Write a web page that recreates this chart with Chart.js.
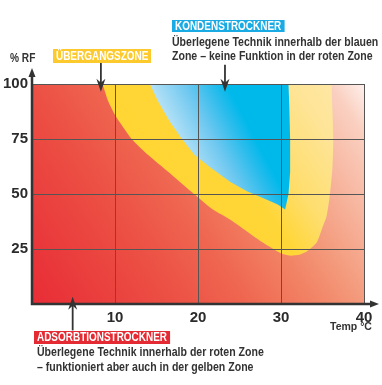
<!DOCTYPE html>
<html>
<head>
<meta charset="utf-8">
<script src="https://cdn.jsdelivr.net/npm/chart.js@4.4.1/dist/chart.umd.min.js"></script>
<style>
  html, body { margin: 0; padding: 0; background: #fff; overflow: hidden; }
  #wrap { position: relative; width: 382px; height: 385px; }
  canvas { position: absolute; left: 0; top: 0; }
  .box { position: absolute; font-family: "Liberation Sans", Arial, sans-serif; font-weight: bold; font-size: 12.3px; color: #fff; padding: 0 3.7px; white-space: nowrap; transform: scaleX(0.81); transform-origin: 0 0; }
  .txt { position: absolute; font-family: "Liberation Sans", Arial, sans-serif; font-weight: bold; font-size: 12.8px; line-height: 14px; color: #333; white-space: nowrap; transform: scaleX(0.825); transform-origin: 0 0; }
</style>
</head>
<body>
<div id="wrap">
  <canvas id="c" width="382" height="385"></canvas>
  <div class="txt" style="left:10px; top:50px; font-size:13px; line-height:15px; transform:scaleX(0.78);">% RF</div>
  <div class="txt" style="left:330px; top:320px; font-size:10.5px; line-height:12px; transform:none;">Temp °C</div>
  <div class="box" style="left:53px; top:49px; height:14px; line-height:14px; background:#FDCA2E;">ÜBERGANGSZONE</div>
  <div class="box" style="left:172px; top:20px; height:12px; line-height:12px; background:#1AAAE4;">KONDENSTROCKNER</div>
  <div class="txt" style="left:172px; top:35px;">Überlegene Technik innerhalb der blauen</div>
  <div class="txt" style="left:172px; top:48.5px;">Zone – keine Funktion in der roten Zone</div>
  <div class="box" style="left:34px; top:331px; height:13px; line-height:13px; background:#E42B33;">ADSORBTIONSTROCKNER</div>
  <div class="txt" style="left:37px; top:345px;">Überlegene Technik innerhalb der roten Zone</div>
  <div class="txt" style="left:37px; top:360px;">– funktioniert aber auch in der gelben Zone</div>
</div>
<script>
// ---- data ----
const tempTicks = [10, 20, 30, 40];
const rfTicks = [25, 50, 75, 100];

// red (adsorption) zone = whole field
const redTemp = [0, 0, 40, 40];
const redRF   = [0, 100, 100, 0];

// yellow (transition) zone outer boundary
const yellowTemp = [8.5, 9.2, 10.1, 12.0, 14.0, 16.4, 19.2, 21.8, 23.9, 25.9, 27.9, 29.9, 31.1, 32.2, 33.1, 34.3, 34.9, 35.5, 35.9, 36.2, 36.3, 36.2, 36.1];
const yellowRF   = [100, 92, 85.3, 75, 67.7, 60.1, 51, 42.9, 38.3, 33, 27.7, 23.2, 22, 22.4, 23.9, 28, 33.8, 40, 50, 62, 75, 88, 100];

// blue (condensation) zone boundary
const blueTemp = [14.2, 15.2, 16.6, 18.0, 19.6, 21.5, 23.9, 25.9, 28.3, 29.6, 30.5, 30.9, 31.1, 31.1, 31.0, 30.9];
const blueRF   = [100, 92, 82.9, 75.3, 67.7, 62, 55.5, 51.2, 47.4, 45.2, 42.9, 50, 60, 75, 90, 100];

const toPts = (xs, ys) => xs.map((x, i) => ({ x: x, y: ys[i] }));

function diagGradient(chart, stops) {
  const a = chart.chartArea;
  if (!a) return null;
  const g = chart.ctx.createLinearGradient(a.left, a.bottom, a.right, a.top);
  stops.forEach(s => g.addColorStop(s[0], s[1]));
  return g;
}

const redStops = [
  [0, 'rgb(232,44,54)'], [0.3, 'rgb(236,80,68)'], [0.45, 'rgb(239,102,80)'],
  [0.6, 'rgb(242,132,102)'], [0.7, 'rgb(244,156,126)'], [0.85, 'rgb(248,190,170)'],
  [0.93, 'rgb(250,208,193)'], [1, 'rgb(254,240,236)']
];
const yellowStops = [
  [0, 'rgb(255,212,45)'], [0.62, 'rgb(255,214,55)'], [0.72, 'rgb(254,222,110)'],
  [0.85, 'rgb(254,228,150)'], [1, 'rgb(254,234,175)']
];

function blueGradient(chart) {
  const a = chart.chartArea;
  if (!a) return null;
  const xs = chart.scales.x, ys = chart.scales.y;
  const g = chart.ctx.createLinearGradient(
    xs.getPixelForValue(14.2), ys.getPixelForValue(100),
    xs.getPixelForValue(21.4), ys.getPixelForValue(114.4));
  g.addColorStop(0, 'rgb(178,224,246)');
  g.addColorStop(0.45, 'rgb(110,200,240)');
  g.addColorStop(0.8, 'rgb(40,188,236)');
  g.addColorStop(1, 'rgb(0,185,235)');
  return g;
}

const arrowPlugin = {
  id: 'arrows',
  afterDraw(chart) {
    const ctx = chart.ctx, a = chart.chartArea;
    const xs = chart.scales.x, ys = chart.scales.y;
    ctx.save();
    ctx.strokeStyle = '#333';
    ctx.fillStyle = '#333';
    // axes
    ctx.lineWidth = 2.5;
    ctx.beginPath();
    ctx.moveTo(a.left, a.bottom + 1.2);
    ctx.lineTo(a.left, a.top - 10);
    ctx.moveTo(a.left - 1.2, a.bottom);
    ctx.lineTo(a.right + 9, a.bottom);
    ctx.stroke();
    // axis arrowheads
    ctx.beginPath();
    ctx.moveTo(a.left, a.top - 16);
    ctx.lineTo(a.left - 3.5, a.top - 7);
    ctx.lineTo(a.left + 3.5, a.top - 7);
    ctx.closePath();
    ctx.fill();
    ctx.beginPath();
    ctx.moveTo(a.right + 15, a.bottom);
    ctx.lineTo(a.right + 6, a.bottom - 3.5);
    ctx.lineTo(a.right + 6, a.bottom + 3.5);
    ctx.closePath();
    ctx.fill();
    // annotation arrows (temp, rf-from, rf-to)
    const ann = [[8.3, 109.7, 96.5], [23.25, 108.8, 96.5], [4.9, -12, 3.3]];
    ctx.lineWidth = 1.8;
    ann.forEach(([t, r0, r1]) => {
      const x = xs.getPixelForValue(t);
      const y0 = ys.getPixelForValue(r0), y1 = ys.getPixelForValue(r1);
      const dir = y1 > y0 ? 1 : -1;
      ctx.beginPath();
      ctx.moveTo(x, y0);
      ctx.lineTo(x, y1 - dir * 8);
      ctx.stroke();
      ctx.beginPath();
      ctx.moveTo(x, y1);
      ctx.lineTo(x - 4.5, y1 - dir * 13);
      ctx.lineTo(x, y1 - dir * 9);
      ctx.lineTo(x + 4.5, y1 - dir * 13);
      ctx.closePath();
      ctx.fill();
    });
    ctx.restore();
  }
};

const tickFont = { family: "'Liberation Sans', Arial, sans-serif", weight: 'bold', size: 15 };

new Chart(document.getElementById('c'), {
  type: 'scatter',
  data: {
    datasets: [
      { label: 'Kondenstrockner', data: toPts(blueTemp, blueRF), showLine: true, fill: 'shape',
        backgroundColor: ctx => blueGradient(ctx.chart), borderWidth: 0, pointRadius: 0, order: 1 },
      { label: 'Übergangszone', data: toPts(yellowTemp, yellowRF), showLine: true, fill: 'shape', tension: 0.2,
        backgroundColor: ctx => diagGradient(ctx.chart, yellowStops), borderWidth: 0, pointRadius: 0, order: 2 },
      { label: 'Adsorbtionstrockner', data: toPts(redTemp, redRF), showLine: true, fill: 'shape',
        backgroundColor: ctx => diagGradient(ctx.chart, redStops), borderWidth: 0, pointRadius: 0, order: 3 }
    ]
  },
  options: {
    responsive: false,
    animation: false,
    events: [],
    layout: { padding: { left: 0, top: 84, right: 18, bottom: 0 } },
    plugins: { legend: { display: false }, tooltip: { enabled: false } },
    scales: {
      x: {
        type: 'linear', min: 0, max: 40,
        afterFit: s => { s.height = 81; },
        afterBuildTicks: s => { s.ticks = [0].concat(tempTicks).map(v => ({ value: v })); },
        grid: { color: '#555', lineWidth: 1, drawTicks: false, z: 1 },
        border: { display: false },
        ticks: { autoSkip: false, maxRotation: 0, padding: 5, color: '#2b2b2b', font: tickFont,
                 callback: v => (v === 0 ? '' : v) }
      },
      y: {
        type: 'linear', min: 0, max: 100,
        afterFit: s => { s.width = 32; },
        afterBuildTicks: s => { s.ticks = [0].concat(rfTicks).map(v => ({ value: v })); },
        grid: { color: '#555', lineWidth: 1, drawTicks: false, z: 1 },
        border: { display: false },
        ticks: { autoSkip: false, padding: 4, color: '#2b2b2b', font: tickFont,
                 callback: v => (v === 0 ? '' : v) }
      }
    }
  },
  plugins: [arrowPlugin]
});
</script>
</body>
</html>
